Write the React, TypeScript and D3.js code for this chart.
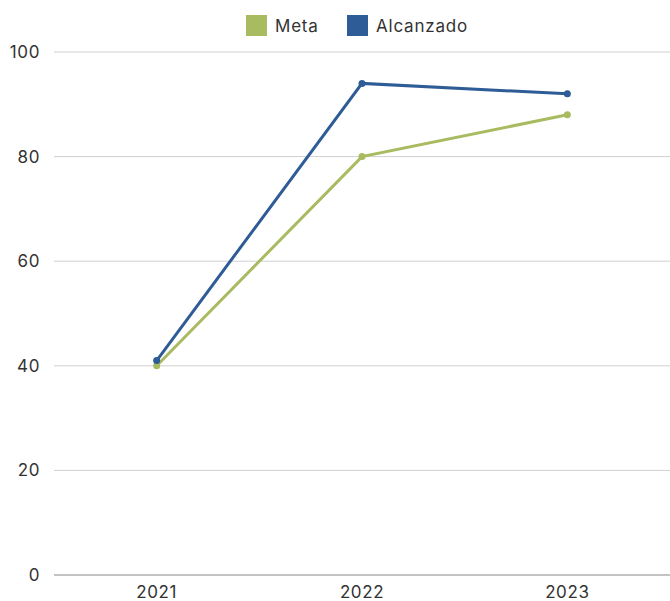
import React from 'react';
import * as d3 from 'd3';

const years = ['2021', '2022', '2023'];
const meta = [40, 80, 88];
const alcanzado = [41, 94, 92];
const yTicks = [0, 20, 40, 60, 80, 100];

const series = [
  { name: 'Meta', values: meta, color: '#a9bb60' },
  { name: 'Alcanzado', values: alcanzado, color: '#2e5c96' },
];

export default function App() {
  const width = 670;
  const height = 601;
  const left = 54;
  const right = 670;
  const top = 52;
  const bottom = 575;
  const font = 'Inter, "Open Sans", sans-serif';

  const x = d3.scaleBand().domain(years).range([left, right]);
  const y = d3.scaleLinear().domain([0, 100]).range([bottom, top]);
  const line = d3
    .line<number>()
    .x((_, i) => (x(years[i]) as number) + x.bandwidth() / 2)
    .y((d) => y(d));

  const legend = [
    { name: 'Meta', color: series[0].color, x: 246 },
    { name: 'Alcanzado', color: series[1].color, x: 347 },
  ];

  return (
    <svg width={width} height={height} style={{ position: 'absolute', left: 0, top: 0 }}>
      <rect width={width} height={height} fill="#fff" />
      {yTicks.map((t) => (
        <g key={t}>
          <line
            x1={left}
            x2={right}
            y1={y(t)}
            y2={y(t)}
            stroke={t === 0 ? '#888' : '#d0d0d0'}
            strokeWidth={1}
          />
          <text
            x={40}
            y={y(t)}
            dy="0.35em"
            textAnchor="end"
            fontFamily={font}
            fontSize={17}
            letterSpacing={0.6}
            fill="#333"
          >
            {t}
          </text>
        </g>
      ))}
      {years.map((yr) => (
        <text
          key={yr}
          x={(x(yr) as number) + x.bandwidth() / 2}
          y={598}
          textAnchor="middle"
          fontFamily={font}
          fontSize={17}
          letterSpacing={0.6}
          fill="#333"
        >
          {yr}
        </text>
      ))}
      {series.map((s) => (
        <g key={s.name}>
          <path d={line(s.values) || ''} fill="none" stroke={s.color} strokeWidth={3} />
          {s.values.map((v, i) => (
            <circle
              key={i}
              cx={(x(years[i]) as number) + x.bandwidth() / 2}
              cy={y(v)}
              r={3.5}
              fill={s.color}
            />
          ))}
        </g>
      ))}
      {legend.map((l) => (
        <g key={l.name}>
          <rect x={l.x} y={15} width={21} height={21} fill={l.color} />
          <text
            x={l.x + 29}
            y={32}
            fontFamily={font}
            fontSize={17}
            letterSpacing={0.8}
            fill="#333"
          >
            {l.name}
          </text>
        </g>
      ))}
    </svg>
  );
}
